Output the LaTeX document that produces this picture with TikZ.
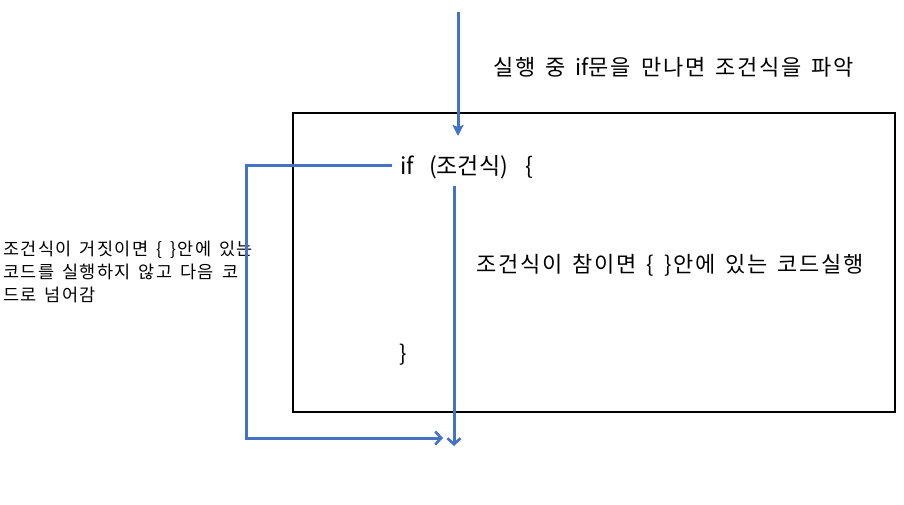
\documentclass[tikz,border=0pt]{standalone}
\usepackage{fontspec}
\setmainfont{Noto Sans CJK KR}
\newfontfamily\krwide[LetterSpace=8,WordSpace=1.5]{Noto Sans CJK KR}
\newfontfamily\krplain{Noto Sans CJK KR}
\usetikzlibrary{arrows.meta}
\definecolor{flowblue}{HTML}{4472C4}
\begin{document}
\begin{tikzpicture}[x=1pt,y=-1pt,
  flow/.style={draw=flowblue,line width=3pt},
  openhead/.style={-{Straight Barb[length=6pt,width=13pt,line width=2.6pt]}},
  filledhead/.style={-{Stealth[length=11pt,width=11pt,inset=2pt]}},
  txt/.style={inner sep=0pt,anchor=west}]
\useasboundingbox (0,0) rectangle (904,504);
\fill[white] (0,0) rectangle (904,504);
\node[draw=black,line width=1.6pt,minimum width=602pt,minimum height=299pt,anchor=north west,inner sep=0pt] (box) at (292,112) {};
\node[txt,font=\fontsize{23}{26}\selectfont] (iftxt) at (400,167) {if\hspace{15pt}(조건식)\hspace{17pt}\{};
\node[txt,font=\fontsize{22}{26}\selectfont] (close) at (399,355) {\}};
\node[txt,font=\krwide\fontsize{22}{26}\selectfont] (top) at (493,67) {실행 중 {\krplain if}문을 만나면 조건식을 파악};
\node[txt,font=\krwide\fontsize{22}{26}\selectfont] (yes) at (476,265) {조건식이 참이면 \{ \}안에 있는 코드실행};
\node[txt,anchor=north west,font=\krwide\fontsize{17.5}{23}\selectfont,align=left] (no) at (3,241) {조건식이 거짓이면 \{ \}안에 있는\\코드를 실행하지 않고 다음 코\\드로 넘어감};
\coordinate (s1) at (458,12);
\coordinate (e1) at (458,136);
\coordinate (l0) at (392,165);
\coordinate (l1) at (246,165);
\coordinate (l2) at (246,438);
\coordinate (l3) at (443,438);
\coordinate (v0) at (454,186);
\coordinate (v1) at (454,446);
\draw[flow,filledhead] (s1) -- (e1);
\draw[flow,openhead] (l0) -- (l1) -- (l2) -- (l3);
\draw[flow,openhead] (v0) -- (v1);
\end{tikzpicture}
\end{document}
